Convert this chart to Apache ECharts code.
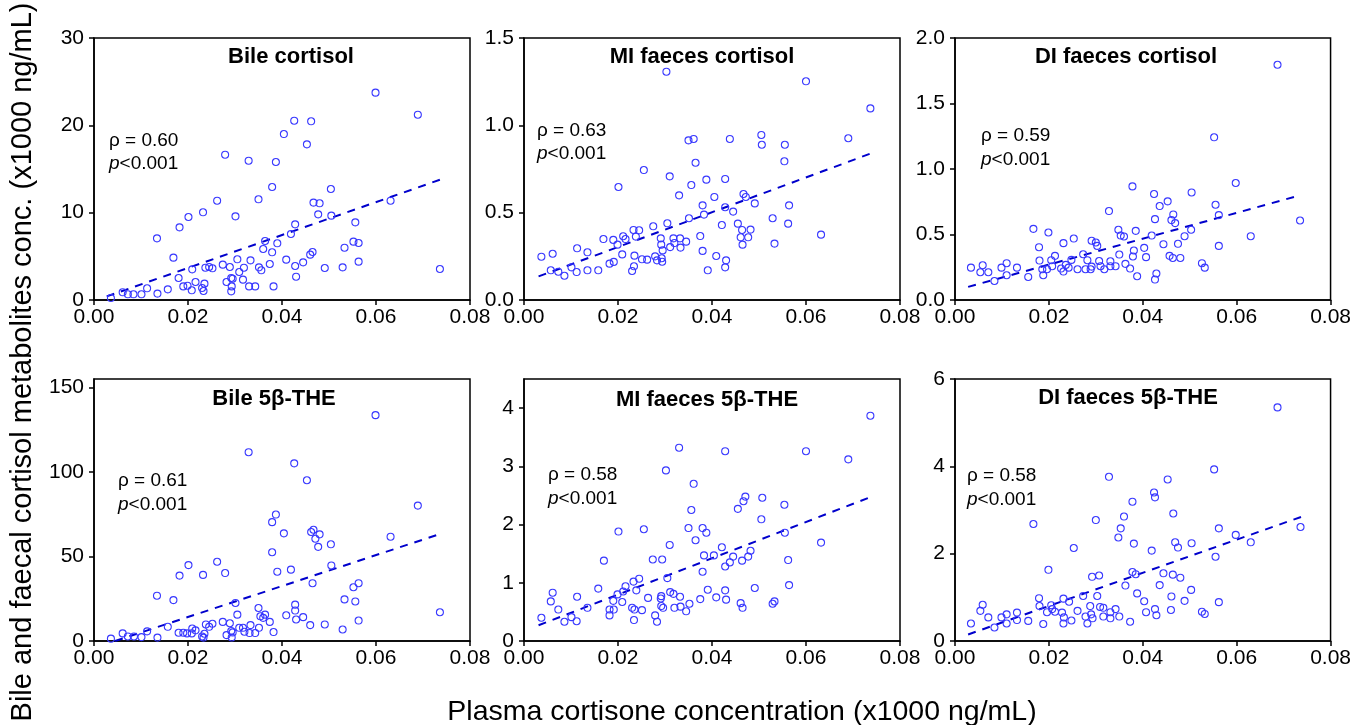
<!DOCTYPE html>
<html><head><meta charset="utf-8">
<script src="https://cdn.jsdelivr.net/npm/echarts@6/dist/echarts.min.js"></script>
<style>html,body{margin:0;padding:0;background:#fff}#c{width:1354px;height:725px}</style>
</head><body><div id="c"></div>
<script>
// x values are plasma cortisone in thousandths (x 0.001); y in panel units
const X_UNIT = 0.001;

const panelTitles = ['Bile cortisol', 'MI faeces cortisol', 'DI faeces cortisol',
                     'Bile 5\u03b2-THE', 'MI faeces 5\u03b2-THE', 'DI faeces 5\u03b2-THE'];
const rhoValues = ['0.60', '0.63', '0.59', '0.61', '0.58', '0.58'];
const pValues = ['<0.001', '<0.001', '<0.001', '<0.001', '<0.001', '<0.001'];

const xTicks = [0, 0.02, 0.04, 0.06, 0.08];
const yTicks = [[0, 10, 20, 30], [0, 0.5, 1.0, 1.5], [0, 0.5, 1.0, 1.5, 2.0],
                [0, 50, 100, 150], [0, 1, 2, 3, 4], [0, 2, 4, 6]];
const yMax = [30, 1.5, 2.0, 155, 4.5, 6];
const yDecimals = [0, 1, 1, 0, 0, 0];

const bileCortisol = [[3.6,0.23],[6.1,0.88],[7.2,0.65],[8.4,0.65],[10.1,0.65],[11.3,1.34],[13.4,7.06],[13.5,0.73],
[15.7,1.22],[16.9,4.85],[18.2,8.32],[18.0,2.52],[19.0,1.56],[19.9,1.64],[20.1,9.5],[20.9,3.51],[20.8,1.11],[21.6,2.06],
[23.2,10.04],[23.0,1.37],[23.3,1.03],[23.5,1.87],[23.7,3.70],[24.5,3.78],[25.2,3.63],[26.2,11.37],[27.4,4.05],[27.9,16.64],
[28.2,2.06],[28.9,3.78],[29.2,2.52],[29.3,1.56],[29.2,0.99],[29.5,2.44],[30.1,9.58],[30.5,4.66],[30.9,3.21],[31.7,2.33],
[31.9,3.70],[32.9,15.95],[33.0,1.56],[33.3,4.54],[34.3,1.56],[35.0,11.53],[35.1,3.74],[35.6,3.40],[36.0,5.84],[36.4,6.76],
[37.4,4.12],[37.9,12.94],[37.9,5.46],[38.2,1.56],[38.7,15.80],[39.0,6.49],[40.4,19.0],[40.9,4.62],[41.9,7.56],[42.6,20.53],
[42.8,8.66],[42.8,3.89],[43.0,2.67],[44.5,4.31],[45.3,17.82],[46.0,5.19],[46.2,20.46],[46.5,5.50],[46.7,11.15],[48.0,11.07],
[47.7,9.81],[49.1,3.66],[50.4,12.71],[50.5,9.66],[52.9,3.74],[53.3,5.99],[55.2,6.68],[55.6,8.89],[56.3,6.53],[56.3,4.39],
[59.9,23.74],[63.1,11.37],[68.9,21.22],[73.6,3.55]];

const miFaecesCortisol = [[3.7,0.248],[6.1,0.265],[5.7,0.170],[7.3,0.162],[8.6,0.139],[10.1,0.187],[11.2,0.160],[11.3,0.296],
[13.5,0.273],[13.5,0.170],[15.8,0.170],[16.9,0.349],[18.2,0.208],[19.1,0.218],[19.0,0.344],[19.9,0.317],[20.1,0.647],[20.9,0.261],
[21.1,0.365],[21.6,0.349],[23.0,0.166],[23.4,0.193],[23.5,0.254],[23.3,0.401],[23.8,0.363],[24.5,0.399],[25.1,0.233],[25.5,0.744],
[26.2,0.231],[27.5,0.422],[27.9,0.250],[28.3,0.227],[29.1,0.353],[29.2,0.317],[29.3,0.239],[29.4,0.219],[29.5,0.284],[30.3,1.307],
[30.5,0.439],[31.0,0.708],[31.1,0.303],[31.8,0.353],[32.0,0.326],[33.0,0.599],[33.2,0.353],[33.3,0.300],[34.5,0.334],[35.0,0.914],
[36.1,0.922],[35.1,0.468],[35.6,0.658],[36.5,0.786],[37.5,0.366],[38.0,0.542],[38.0,0.281],[38.3,0.489],[38.8,0.689],[39.1,0.170],
[40.5,0.590],[40.9,0.252],[42.1,0.429],[42.8,0.693],[42.8,0.531],[43.0,0.227],[42.8,0.187],[43.8,0.922],[44.5,0.506],[45.5,0.437],
[46.1,0.359],[46.4,0.401],[46.5,0.317],[46.7,0.607],[47.2,0.590],[47.7,0.359],[48.2,0.403],[49.1,0.553],[50.5,0.945],[50.6,0.889],
[52.9,0.468],[53.3,0.323],[55.5,0.889],[55.4,0.794],[56.4,0.542],[56.2,0.437],[60.0,1.252],[63.2,0.374],[69.0,0.926],[73.7,1.097]];

const diFaecesCortisol = [[3.4,0.247],[5.4,0.212],[5.9,0.265],[7.1,0.212],[8.4,0.145],[9.9,0.247],[11.0,0.281],[11.0,0.189],
[13.2,0.247],[15.6,0.176],[16.7,0.543],[17.9,0.403],[18.0,0.301],[18.8,0.189],[18.6,0.235],[19.6,0.235],[19.9,0.515],[20.5,0.304],
[20.7,0.258],[21.3,0.337],[22.6,0.240],[23.1,0.434],[23.1,0.217],[23.6,0.268],[24.2,0.247],[24.8,0.306],[25.3,0.469],[26.1,0.235],
[27.3,0.349],[27.8,0.235],[28.2,0.304],[28.9,0.235],[29.1,0.255],[29.1,0.452],[30.0,0.439],[30.3,0.413],[30.7,0.298],[31.0,0.258],
[31.8,0.235],[32.8,0.679],[33.1,0.296],[33.1,0.258],[34.2,0.258],[34.8,0.536],[35.0,0.347],[35.3,0.492],[36.0,0.485],[36.3,0.276],
[37.3,0.240],[37.8,0.867],[37.9,0.332],[38.1,0.378],[38.5,0.528],[38.8,0.181],[40.3,0.398],[40.7,0.327],[41.9,0.492],[42.4,0.809],
[42.6,0.617],[42.6,0.156],[42.9,0.202],[43.6,0.717],[44.4,0.426],[45.3,0.753],[45.7,0.337],[46.1,0.610],[46.5,0.653],[46.4,0.321],
[46.9,0.587],[47.5,0.429],[48.0,0.321],[48.9,0.487],[50.3,0.536],[50.4,0.821],[52.6,0.281],[53.2,0.247],[55.2,1.242],[55.5,0.727],
[56.2,0.648],[56.2,0.413],[59.8,0.893],[63.0,0.487],[68.7,1.796],[73.5,0.607]];

const bile5bTHE = [[3.6,1.4],[6.1,4.5],[7.2,2.7],[8.5,2.7],[10.1,2.3],[11.3,5.7],[13.4,26.8],[13.5,2.0],[15.7,8.4],[16.9,24.2],
[18.2,38.7],[18.0,4.9],[19.0,4.9],[19.8,4.5],[20.1,44.9],[20.9,7.4],[20.8,4.5],[21.6,6.3],[23.2,39.1],[23.0,2.7],[23.3,2.0],
[23.5,4.3],[23.8,9.8],[24.5,8.4],[25.2,10.2],[26.2,46.9],[27.4,11.3],[27.9,40.2],[28.2,3.5],[28.9,10.5],[29.2,5.9],[29.3,2.1],
[29.5,5.1],[30.1,22.5],[30.5,15.6],[30.9,7.8],[31.7,7.8],[32.0,5.5],[32.9,111.7],[33.1,4.7],[33.3,9.4],[34.3,4.7],[35.0,19.5],
[35.1,7.8],[35.4,14.6],[36.0,13.7],[36.4,15.6],[37.4,11.3],[37.9,52.5],[37.9,70.3],[38.2,5.3],[38.7,74.8],[39.0,41.0],[40.4,63.7],
[40.9,15.2],[41.9,42.2],[42.6,105.1],[42.8,21.5],[42.8,18.0],[43.0,12.7],[44.5,14.1],[45.3,95.1],[46.0,9.4],[46.2,64.5],[46.5,34.2],
[46.7,65.8],[47.1,60.5],[48.0,63.1],[47.7,55.7],[49.1,9.8],[50.4,57.2],[50.5,44.7],[52.9,6.8],[53.3,24.6],[55.2,31.8],[55.6,23.4],
[56.3,34.2],[56.3,12.1],[59.9,133.6],[63.1,61.7],[68.9,80.1],[73.6,17.0]];

const miFaeces5bTHE = [[3.7,0.40],[5.7,0.68],[6.1,0.83],[7.3,0.54],[8.6,0.33],[10.1,0.41],[11.2,0.34],[11.3,0.76],[13.5,0.57],
[15.8,0.90],[17.0,1.38],[18.2,0.54],[18.2,0.44],[19.1,0.54],[19.0,0.69],[19.9,0.80],[20.1,1.88],[20.9,0.67],[21.1,0.85],[21.6,0.94],
[23.0,0.57],[23.4,0.36],[23.5,0.54],[23.3,1.02],[23.9,0.87],[24.5,1.07],[25.1,0.53],[25.5,1.92],[26.4,0.74],[27.4,1.40],[27.9,0.44],
[28.3,0.33],[29.1,0.73],[29.2,0.77],[29.2,0.60],[29.4,1.40],[29.6,0.57],[30.2,2.93],[30.5,1.08],[31.0,1.65],[31.1,0.84],[31.8,0.81],
[32.0,0.57],[33.0,3.32],[33.2,0.76],[33.3,0.59],[34.5,0.51],[35.0,1.94],[35.2,0.64],[35.6,2.25],[36.1,2.70],[36.5,1.73],[37.5,0.72],
[38.0,1.19],[38.0,1.94],[38.3,1.47],[38.8,1.86],[39.1,0.88],[40.4,1.47],[40.9,0.75],[42.1,1.61],[42.8,3.26],[42.8,1.28],[42.8,0.87],
[43.0,0.71],[43.8,1.35],[44.5,1.45],[45.5,2.27],[46.1,0.65],[46.4,1.38],[46.5,0.57],[46.7,2.40],[47.1,2.48],[47.7,1.45],[48.2,1.55],
[49.1,0.91],[50.5,2.09],[50.7,2.46],[52.9,0.64],[53.3,0.68],[55.4,2.34],[55.5,1.86],[56.2,1.39],[56.4,0.96],[60.0,3.26],[63.2,1.69],
[69.0,3.12],[73.7,3.87]];

const diFaeces5bTHE = [[3.4,0.40],[5.4,0.69],[5.9,0.83],[7.1,0.54],[8.4,0.31],[9.9,0.54],[11.0,0.61],[11.0,0.40],[13.2,0.65],
[13.2,0.48],[15.6,0.46],[16.7,2.68],[17.9,0.98],[18.0,0.80],[18.8,0.39],[19.6,0.66],[19.9,1.63],[20.5,0.82],[20.7,0.73],[21.3,0.67],
[22.8,0.65],[23.1,0.97],[23.1,0.40],[23.2,0.54],[24.3,0.90],[24.8,0.47],[25.3,2.13],[26.1,0.69],[27.3,1.03],[27.8,0.56],[28.2,0.40],
[28.8,0.80],[29.0,0.61],[29.2,1.47],[29.3,0.52],[30.0,2.77],[30.3,1.03],[30.7,1.50],[30.9,0.78],[31.6,0.56],[31.6,0.76],[32.8,3.76],
[33.1,0.66],[33.1,0.52],[34.2,0.73],[34.8,2.37],[35.0,0.56],[35.3,2.58],[36.0,2.85],[36.3,1.27],[37.3,0.44],[37.8,3.19],[37.8,1.58],
[38.1,2.23],[38.5,1.53],[38.8,1.09],[40.3,0.91],[40.7,0.66],[41.9,2.07],[42.4,3.40],[42.6,3.29],[42.6,0.73],[42.9,0.59],[43.6,1.28],
[44.4,1.55],[45.3,3.70],[46.1,1.02],[46.4,1.52],[46.5,2.92],[46.0,0.71],[46.9,2.26],[47.5,2.14],[48.0,1.45],[48.9,0.92],[50.3,1.17],
[50.4,2.24],[52.6,0.67],[53.2,0.62],[55.2,3.93],[55.5,1.93],[56.2,2.58],[56.2,0.89],[59.8,2.43],[63.0,2.26],[68.7,5.35],[73.6,2.61]];

// regression (dashed) line end points
const fitLines = [
  [[2.7, 0.41], [74.3, 13.9]],
  [[3.1, 0.135], [74.4, 0.845]],
  [[2.8, 0.10], [73.6, 0.80]],
  [[4.5, 0.0], [73.3, 63.0]],
  [[3.1, 0.27], [74.3, 2.49]],
  [[2.8, 0.15], [74.2, 2.86]]
];

const panelData = [bileCortisol, miFaecesCortisol, diFaecesCortisol, bile5bTHE, miFaeces5bTHE, diFaeces5bTHE];

const yAxisTitle = 'Bile and faecal cortisol metabolites conc. (x1000 ng/mL)';
const xAxisTitle = 'Plasma cortisone concentration (x1000 ng/mL)';

const FONT = '"Liberation Sans", Arial, Helvetica, sans-serif';
const gridLeft = [94, 524, 955];
const gridTop = [38, 379];
const GW = 376, GH = 262;
const titlePos = [[291, 57], [702, 57], [1126, 57], [274, 399], [707, 400], [1128, 398]];
const annoPos = [[109, 141, 164], [537, 131, 154], [981, 136, 160], [118, 481, 505], [548, 475, 499], [967, 476, 500]];

const grids = [], xAxes = [], yAxes = [], series = [], graphics = [];
for (let i = 0; i < 6; i++) {
  const col = i % 3, row = Math.floor(i / 3);
  grids.push({left: gridLeft[col], top: gridTop[row], width: GW, height: GH,
    show: true, borderColor: '#000', borderWidth: 1.5, backgroundColor: 'transparent'});
  const axisCommon = {
    axisLine: {show: true, onZero: false, lineStyle: {color: '#000', width: 1.5}},
    splitLine: {show: false}
  };
  xAxes.push(Object.assign({type: 'value', gridIndex: i, min: 0, max: 0.08,
    axisTick: {show: true, inside: false, length: 5, customValues: xTicks, lineStyle: {color: '#000', width: 1.5}},
    axisLabel: {customValues: xTicks, formatter: v => v.toFixed(2), color: '#000', fontSize: 21, fontFamily: FONT, margin: 7}
  }, axisCommon));
  const dec = yDecimals[i];
  yAxes.push(Object.assign({type: 'value', gridIndex: i, min: 0, max: yMax[i],
    axisTick: {show: true, inside: false, length: 5, customValues: yTicks[i], lineStyle: {color: '#000', width: 1.5}},
    axisLabel: {customValues: yTicks[i], formatter: v => v.toFixed(dec), color: '#000', fontSize: 21, fontFamily: FONT, margin: 10}
  }, axisCommon));
  series.push({type: 'line', xAxisIndex: i, yAxisIndex: i, silent: true, z: 2,
    data: fitLines[i].map(p => [p[0] * X_UNIT, p[1]]), symbol: 'none', showSymbol: false,
    lineStyle: {color: '#0000cc', width: 2, type: [8, 7]}});
  series.push({type: 'scatter', xAxisIndex: i, yAxisIndex: i, silent: true, z: 3,
    data: panelData[i].map(p => [p[0] * X_UNIT, p[1]]), symbol: 'circle', symbolSize: 7,
    itemStyle: {color: 'rgba(0,0,0,0)', borderColor: '#3838ff', borderWidth: 1.1, opacity: 1}});
  graphics.push({type: 'text', x: titlePos[i][0], y: titlePos[i][1], silent: true,
    style: {text: panelTitles[i], fontSize: 22, fontWeight: 'bold', fontFamily: FONT, fill: '#000',
      align: 'center', verticalAlign: 'middle'}});
  graphics.push({type: 'text', x: annoPos[i][0], y: annoPos[i][1], silent: true,
    style: {text: '\u03c1 = ' + rhoValues[i], fontSize: 19, fontFamily: FONT, fill: '#000',
      align: 'left', verticalAlign: 'middle'}});
  graphics.push({type: 'text', x: annoPos[i][0], y: annoPos[i][2], silent: true,
    style: {text: '{i|p}' + pValues[i], fontSize: 19, fontFamily: FONT, fill: '#000',
      align: 'left', verticalAlign: 'middle',
      rich: {i: {fontStyle: 'italic', fontSize: 19, fontFamily: FONT, fill: '#000'}}}});
}
graphics.push({type: 'text', x: 23, y: 362, rotation: Math.PI / 2, silent: true,
  style: {text: yAxisTitle, fontSize: 29, fontFamily: FONT, fill: '#000', align: 'center', verticalAlign: 'middle'}});
graphics.push({type: 'text', x: 742, y: 712, silent: true,
  style: {text: xAxisTitle, fontSize: 28.5, fontFamily: FONT, fill: '#000', align: 'center', verticalAlign: 'middle'}});

const chart = echarts.init(document.getElementById('c'), null, {renderer: 'canvas'});
chart.setOption({
  animation: false,
  backgroundColor: '#fff',
  grid: grids, xAxis: xAxes, yAxis: yAxes, series: series, graphic: graphics
});
</script>
</body></html>
